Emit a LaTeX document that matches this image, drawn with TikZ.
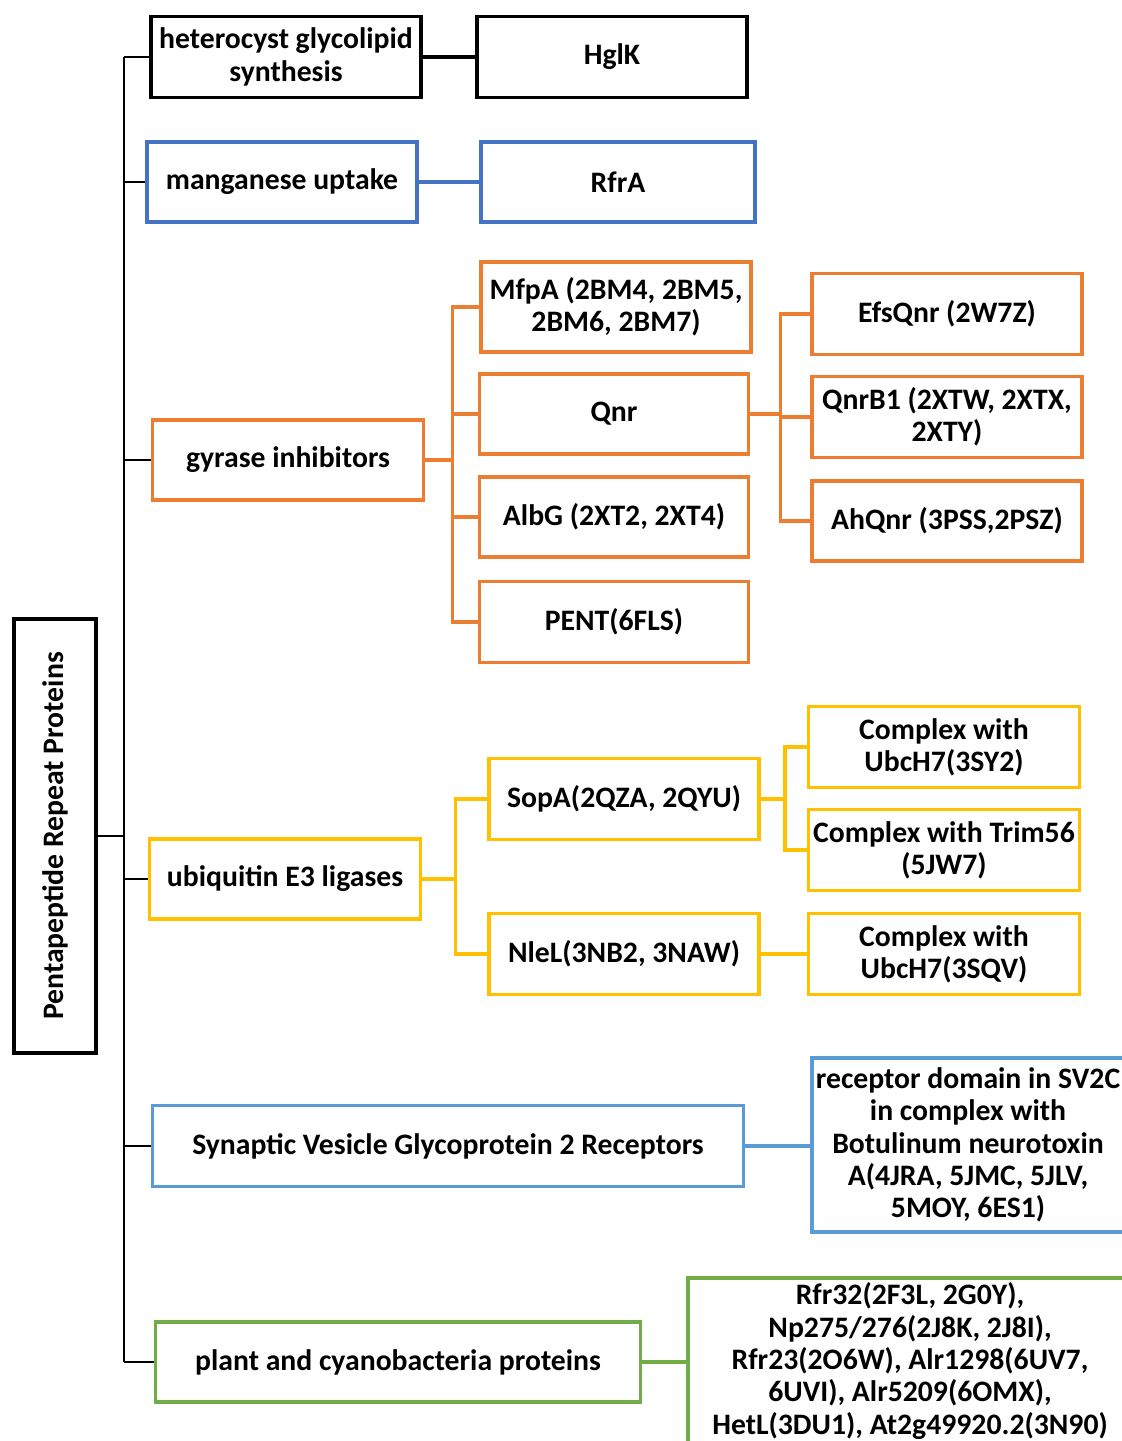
\documentclass[tikz,border=0pt]{standalone}
\usepackage{fontspec}
\setmainfont{Carlito}
\definecolor{cblk}{HTML}{000000}
\definecolor{cblu}{HTML}{4472C4}
\definecolor{corg}{HTML}{ED7D31}
\definecolor{cyel}{HTML}{FFC000}
\definecolor{csky}{HTML}{5B9BD5}
\definecolor{cgrn}{HTML}{70AD47}
\begin{document}
\begin{tikzpicture}[x=1pt,y=-1pt,
  box/.style={draw, line width=3.6pt, fill=white, align=center, inner sep=0pt,
    font=\bfseries\fontsize{29.7}{32.3}\selectfont},
  trunk/.style={draw=black, line width=1.8pt},
  conn/.style={line width=3.6pt, line join=miter},
]
\useasboundingbox (0,0) rectangle (1122,1441);
\begin{scope}
\clip (0,0) rectangle (1122,1441);
% root
\node[box, draw=cblk, rotate=90, minimum width=434, minimum height=82] (root) at (55,836) {Pentapeptide Repeat Proteins};
% level 1
\node[box, draw=cblk, minimum width=270, minimum height=81] (het) at (286,57) {heterocyst glycolipid\\synthesis};
\node[box, draw=cblk, minimum width=270, minimum height=81] (hglk) at (612,57) {HglK};
\node[box, draw=cblu, minimum width=270, minimum height=80] (mang) at (282,182) {manganese uptake};
\node[box, draw=cblu, minimum width=274, minimum height=80] (rfra) at (618,182) {RfrA};
\node[box, draw=corg, minimum width=271, minimum height=80] (gyr) at (288,460) {gyrase inhibitors};
\node[box, draw=corg, minimum width=270, minimum height=90] (mfpa) at (616,307) {MfpA (2BM4, 2BM5,\\2BM6, 2BM7)};
\node[box, draw=corg, minimum width=269, minimum height=80] (qnr) at (614,414) {Qnr};
\node[box, draw=corg, minimum width=269, minimum height=80] (albg) at (614,517) {AlbG (2XT2, 2XT4)};
\node[box, draw=corg, minimum width=269, minimum height=81] (pent) at (614,622) {PENT(6FLS)};
\node[box, draw=corg, minimum width=270, minimum height=81] (efs) at (947,314) {EfsQnr (2W7Z)};
\node[box, draw=corg, minimum width=270, minimum height=81] (qnrb) at (947,417) {QnrB1 (2XTW, 2XTX,\\2XTY)};
\node[box, draw=corg, minimum width=270, minimum height=80] (ahq) at (947,521) {AhQnr (3PSS,2PSZ)};
\node[box, draw=cyel, minimum width=271, minimum height=80] (ubq) at (285,879) {ubiquitin E3 ligases};
\node[box, draw=cyel, minimum width=270, minimum height=81] (sopa) at (624,799) {SopA(2QZA, 2QYU)};
\node[box, draw=cyel, minimum width=270, minimum height=81] (nlel) at (624,954) {NleL(3NB2, 3NAW)};
\node[box, draw=cyel, minimum width=271, minimum height=81] (ca) at (944,747) {Complex with\\UbcH7(3SY2)};
\node[box, draw=cyel, minimum width=271, minimum height=81] (cb) at (944,850) {Complex with Trim56\\(5JW7)};
\node[box, draw=cyel, minimum width=271, minimum height=81] (cc) at (944,954) {Complex with\\UbcH7(3SQV)};
\node[box, draw=csky, minimum width=591, minimum height=81] (syn) at (448,1146) {Synaptic Vesicle Glycoprotein 2 Receptors};
\node[box, draw=csky, minimum width=312, minimum height=174] (rec) at (968,1145) {receptor domain in SV2C\\in complex with\\Botulinum neurotoxin\\A(4JRA, 5JMC, 5JLV,\\5MOY, 6ES1)};
\node[box, draw=cgrn, minimum width=485, minimum height=80] (plant) at (398,1362) {plant and cyanobacteria proteins};
\node[box, draw=cgrn, minimum width=444, minimum height=166] (rfr) at (910,1361) {Rfr32(2F3L, 2G0Y),\\Np275/276(2J8K, 2J8I),\\Rfr23(2O6W), Alr1298(6UV7,\\6UVI), Alr5209(6OMX),\\HetL(3DU1), At2g49920.2(3N90)};
% trunk
\coordinate (t) at (124,0);
\draw[trunk] (root.south) -- (t |- root.south);
\draw[trunk] (t |- het.west) -- (t |- plant.west);
\foreach \n in {het,mang,gyr,ubq,syn,plant} \draw[trunk] (t |- \n.west) -- (\n.west);
% direct links
\draw[conn, cblk] (het) -- (hglk);
\draw[conn, cblu] (mang) -- (rfra);
\draw[conn, csky] (syn) -- (syn.east -| rec.west);
\draw[conn, cgrn] (plant) -- (plant.east -| rfr.west);
\draw[conn, cyel] (nlel) -- (cc);
% gyrase bracket
\foreach \n in {mfpa,qnr,albg,pent} \draw[conn, corg] (gyr.east) -- ++(27,0) |- (\n.west);
\foreach \n in {efs,qnrb,ahq} \draw[conn, corg] (qnr.east) -- ++(30,0) |- (\n.west);
% ubiquitin bracket
\foreach \n in {sopa,nlel} \draw[conn, cyel] (ubq.east) -- ++(33,0) |- (\n.west);
\foreach \n in {ca,cb} \draw[conn, cyel] (sopa.east) -- ++(24,0) |- (\n.west);
\end{scope}
\end{tikzpicture}
\end{document}
